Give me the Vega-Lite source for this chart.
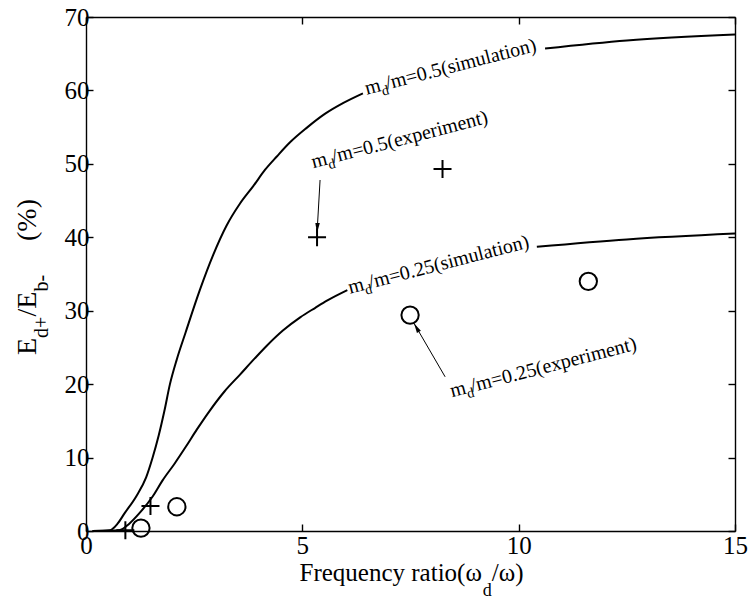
{
  "$schema": "https://vega.github.io/schema/vega-lite/v6.json",
  "description": "Energy ratio versus frequency ratio, simulation and experiment",
  "width": 649,
  "height": 514,
  "autosize": {"type": "none"},
  "padding": {"left": 86, "top": 17, "right": 13, "bottom": 68},
  "background": "white",
  "config": {
    "view": {"stroke": null},
    "font": "Liberation Serif, Times New Roman, serif",
    "text": {"font": "Liberation Serif, Times New Roman, serif"},
    "axis": {
      "domainColor": "black", "domainWidth": 1.4,
      "tickColor": "black", "tickWidth": 1.4, "tickSize": -7,
      "labelFont": "Liberation Serif, Times New Roman, serif", "labelFontSize": 25, "labelColor": "black",
      "labelFlush": false, "labelOverlap": false, "grid": false, "title": null
    }
  },
  "datasets": {
    "sim": [
      {"curve": "0.5", "part": "a", "ratio": 0.15, "value": 0},
      {"curve": "0.5", "part": "a", "ratio": 0.55, "value": 0.1},
      {"curve": "0.5", "part": "a", "ratio": 0.73, "value": 1.0},
      {"curve": "0.5", "part": "a", "ratio": 0.89, "value": 2.4},
      {"curve": "0.5", "part": "a", "ratio": 1.16, "value": 4.7},
      {"curve": "0.5", "part": "a", "ratio": 1.39, "value": 7.3},
      {"curve": "0.5", "part": "a", "ratio": 1.54, "value": 10.0},
      {"curve": "0.5", "part": "a", "ratio": 1.68, "value": 13.0},
      {"curve": "0.5", "part": "a", "ratio": 1.81, "value": 16.3},
      {"curve": "0.5", "part": "a", "ratio": 1.94, "value": 20.0},
      {"curve": "0.5", "part": "a", "ratio": 2.1, "value": 23.4},
      {"curve": "0.5", "part": "a", "ratio": 2.3, "value": 27.0},
      {"curve": "0.5", "part": "a", "ratio": 2.63, "value": 32.8},
      {"curve": "0.5", "part": "a", "ratio": 2.94, "value": 37.6},
      {"curve": "0.5", "part": "a", "ratio": 3.25, "value": 41.6},
      {"curve": "0.5", "part": "a", "ratio": 3.56, "value": 44.6},
      {"curve": "0.5", "part": "a", "ratio": 3.87, "value": 47.0},
      {"curve": "0.5", "part": "a", "ratio": 4.14, "value": 49.2},
      {"curve": "0.5", "part": "a", "ratio": 4.41, "value": 51.0},
      {"curve": "0.5", "part": "a", "ratio": 4.71, "value": 52.9},
      {"curve": "0.5", "part": "a", "ratio": 5.1, "value": 54.9},
      {"curve": "0.5", "part": "a", "ratio": 5.52, "value": 56.8},
      {"curve": "0.5", "part": "a", "ratio": 5.95, "value": 58.3},
      {"curve": "0.5", "part": "a", "ratio": 6.4, "value": 59.6},
      {"curve": "0.5", "part": "b", "ratio": 10.61, "value": 65.7},
      {"curve": "0.5", "part": "b", "ratio": 12.5, "value": 66.8},
      {"curve": "0.5", "part": "b", "ratio": 15, "value": 67.6},
      {"curve": "0.25", "part": "a", "ratio": 0.15, "value": 0},
      {"curve": "0.25", "part": "a", "ratio": 0.77, "value": 0.1},
      {"curve": "0.25", "part": "a", "ratio": 1.0, "value": 1.0},
      {"curve": "0.25", "part": "a", "ratio": 1.23, "value": 2.4},
      {"curve": "0.25", "part": "a", "ratio": 1.54, "value": 4.7},
      {"curve": "0.25", "part": "a", "ratio": 1.77, "value": 6.9},
      {"curve": "0.25", "part": "a", "ratio": 2.05, "value": 9.2},
      {"curve": "0.25", "part": "a", "ratio": 2.31, "value": 11.5},
      {"curve": "0.25", "part": "a", "ratio": 2.56, "value": 13.8},
      {"curve": "0.25", "part": "a", "ratio": 2.85, "value": 16.3},
      {"curve": "0.25", "part": "a", "ratio": 3.2, "value": 19.0},
      {"curve": "0.25", "part": "a", "ratio": 3.56, "value": 21.3},
      {"curve": "0.25", "part": "a", "ratio": 3.9, "value": 23.5},
      {"curve": "0.25", "part": "a", "ratio": 4.19, "value": 25.3},
      {"curve": "0.25", "part": "a", "ratio": 4.55, "value": 27.3},
      {"curve": "0.25", "part": "a", "ratio": 4.95, "value": 29.1},
      {"curve": "0.25", "part": "a", "ratio": 5.3, "value": 30.4},
      {"curve": "0.25", "part": "a", "ratio": 5.58, "value": 31.4},
      {"curve": "0.25", "part": "a", "ratio": 6.04, "value": 32.8},
      {"curve": "0.25", "part": "b", "ratio": 10.42, "value": 38.7},
      {"curve": "0.25", "part": "b", "ratio": 12.5, "value": 39.7},
      {"curve": "0.25", "part": "b", "ratio": 15, "value": 40.5}
    ],
    "experiment": [
      {"mass": "0.5", "ratio": 0.91, "value": 0.1},
      {"mass": "0.5", "ratio": 1.49, "value": 3.4},
      {"mass": "0.5", "ratio": 5.34, "value": 40.0},
      {"mass": "0.5", "ratio": 8.24, "value": 49.3},
      {"mass": "0.25", "ratio": 1.27, "value": 0.4},
      {"mass": "0.25", "ratio": 2.1, "value": 3.3},
      {"mass": "0.25", "ratio": 7.49, "value": 29.4},
      {"mass": "0.25", "ratio": 11.61, "value": 34.0}
    ],
    "arrows": [
      {"id": 1, "x": 5.41, "y": 47.8, "x2": 5.34, "y2": 40.6},
      {"id": 2, "x": 8.3, "y": 21.0, "x2": 7.58, "y2": 28.3}
    ],
    "notes": [
      {"x": 6.49, "y": 59.4, "head": "m", "sub": "d", "rest": "/m=0.5(simulation)"},
      {"x": 5.25, "y": 49.4, "head": "m", "sub": "d", "rest": "/m=0.5(experiment)"},
      {"x": 6.1, "y": 32.3, "head": "m", "sub": "d", "rest": "/m=0.25(simulation)"},
      {"x": 8.46, "y": 18.2, "head": "m", "sub": "d", "rest": "/m=0.25(experiment)"}
    ],
    "xtitle": [
      {"role": "main", "text": "Frequency ratio(ω", "x": 9.15, "y": -6.8},
      {"role": "sub", "text": "d", "x": 9.17, "y": -8.8},
      {"role": "tail", "text": "/ω)", "x": 9.38, "y": -6.8}
    ],
    "ytitle": [
      {"role": "main", "text": "E", "x": -1.156, "y": 23.97},
      {"role": "sub", "text": "d+", "x": -0.878, "y": 26.3},
      {"role": "main", "text": "/E", "x": -1.156, "y": 29.2},
      {"role": "sub", "text": "b-", "x": -0.878, "y": 32.6},
      {"role": "main", "text": "(%)", "x": -1.156, "y": 39.5}
    ]
  },
  "layer": [
    {
      "data": {"name": "sim"},
      "mark": {"type": "line", "color": "black", "strokeWidth": 2, "interpolate": "monotone"},
      "encoding": {
        "x": {"field": "ratio", "type": "quantitative", "scale": {"domain": [0, 15], "nice": false},
              "axis": {"orient": "bottom", "values": [0, 5, 10, 15], "labelPadding": 9}},
        "y": {"field": "value", "type": "quantitative", "scale": {"domain": [0, 70], "nice": false},
              "axis": {"orient": "left", "values": [0, 10, 20, 30, 40, 50, 60, 70], "labelPadding": 4}},
        "detail": [{"field": "curve"}, {"field": "part"}]
      }
    },
    {
      "data": {"name": "experiment"},
      "transform": [{"filter": "datum.mass === '0.5'"}],
      "mark": {"type": "point", "shape": "M-1,0H1M0,-1V1", "size": 324, "filled": false, "color": "black", "strokeWidth": 2, "opacity": 1},
      "encoding": {
        "x": {"field": "ratio", "type": "quantitative",
              "axis": {"orient": "top", "values": [0, 5, 10, 15], "labels": false}},
        "y": {"field": "value", "type": "quantitative",
              "axis": {"orient": "right", "values": [0, 10, 20, 30, 40, 50, 60, 70], "labels": false}}
      }
    },
    {
      "data": {"name": "experiment"},
      "transform": [{"filter": "datum.mass === '0.25'"}],
      "mark": {"type": "point", "shape": "circle", "size": 300, "filled": false, "color": "black", "strokeWidth": 2, "opacity": 1},
      "encoding": {
        "x": {"field": "ratio", "type": "quantitative", "axis": null},
        "y": {"field": "value", "type": "quantitative", "axis": null}
      }
    },
    {
      "data": {"name": "arrows"},
      "mark": {"type": "rule", "color": "black", "strokeWidth": 1},
      "encoding": {
        "x": {"field": "x", "type": "quantitative", "axis": null},
        "y": {"field": "y", "type": "quantitative", "axis": null},
        "x2": {"field": "x2"},
        "y2": {"field": "y2"}
      }
    },
    {
      "data": {"name": "arrows"},
      "transform": [{"filter": "datum.id === 1"}],
      "mark": {"type": "point", "shape": "M0,0L-0.5,-2.2L0.5,-2.2Z", "size": 81, "filled": true, "color": "black", "strokeWidth": 0, "opacity": 1, "angle": 3},
      "encoding": {
        "x": {"field": "x2", "type": "quantitative", "axis": null},
        "y": {"field": "y2", "type": "quantitative", "axis": null}
      }
    },
    {
      "data": {"name": "arrows"},
      "transform": [{"filter": "datum.id === 2"}],
      "mark": {"type": "point", "shape": "M0,0L-0.5,-2.2L0.5,-2.2Z", "size": 81, "filled": true, "color": "black", "strokeWidth": 0, "opacity": 1, "angle": 150},
      "encoding": {
        "x": {"field": "x2", "type": "quantitative", "axis": null},
        "y": {"field": "y2", "type": "quantitative", "axis": null}
      }
    },
    {
      "data": {"name": "notes"},
      "mark": {"type": "text", "fontSize": 20, "align": "left", "baseline": "alphabetic", "angle": -14.5, "color": "black"},
      "encoding": {
        "x": {"field": "x", "type": "quantitative", "axis": null},
        "y": {"field": "y", "type": "quantitative", "axis": null},
        "text": {"field": "head"}
      }
    },
    {
      "data": {"name": "notes"},
      "mark": {"type": "text", "fontSize": 14, "align": "left", "baseline": "alphabetic", "angle": -14.5, "dx": 15.5, "dy": 5, "color": "black"},
      "encoding": {
        "x": {"field": "x", "type": "quantitative", "axis": null},
        "y": {"field": "y", "type": "quantitative", "axis": null},
        "text": {"field": "sub"}
      }
    },
    {
      "data": {"name": "notes"},
      "mark": {"type": "text", "fontSize": 20, "align": "left", "baseline": "alphabetic", "angle": -14.5, "dx": 21, "color": "black"},
      "encoding": {
        "x": {"field": "x", "type": "quantitative", "axis": null},
        "y": {"field": "y", "type": "quantitative", "axis": null},
        "text": {"field": "rest"}
      }
    },
    {
      "data": {"name": "xtitle"},
      "transform": [{"filter": "datum.role === 'main'"}],
      "mark": {"type": "text", "fontSize": 25, "align": "right", "baseline": "alphabetic", "color": "black"},
      "encoding": {
        "x": {"field": "x", "type": "quantitative", "axis": null},
        "y": {"field": "y", "type": "quantitative", "axis": null},
        "text": {"field": "text"}
      }
    },
    {
      "data": {"name": "xtitle"},
      "transform": [{"filter": "datum.role === 'sub'"}],
      "mark": {"type": "text", "fontSize": 18, "align": "left", "baseline": "alphabetic", "color": "black"},
      "encoding": {
        "x": {"field": "x", "type": "quantitative", "axis": null},
        "y": {"field": "y", "type": "quantitative", "axis": null},
        "text": {"field": "text"}
      }
    },
    {
      "data": {"name": "xtitle"},
      "transform": [{"filter": "datum.role === 'tail'"}],
      "mark": {"type": "text", "fontSize": 25, "align": "left", "baseline": "alphabetic", "color": "black"},
      "encoding": {
        "x": {"field": "x", "type": "quantitative", "axis": null},
        "y": {"field": "y", "type": "quantitative", "axis": null},
        "text": {"field": "text"}
      }
    },
    {
      "data": {"name": "ytitle"},
      "transform": [{"filter": "datum.role === 'main'"}],
      "mark": {"type": "text", "fontSize": 28, "align": "left", "baseline": "alphabetic", "angle": -90, "color": "black"},
      "encoding": {
        "x": {"field": "x", "type": "quantitative", "axis": null},
        "y": {"field": "y", "type": "quantitative", "axis": null},
        "text": {"field": "text"}
      }
    },
    {
      "data": {"name": "ytitle"},
      "transform": [{"filter": "datum.role === 'sub'"}],
      "mark": {"type": "text", "fontSize": 20, "align": "left", "baseline": "alphabetic", "angle": -90, "color": "black"},
      "encoding": {
        "x": {"field": "x", "type": "quantitative", "axis": null},
        "y": {"field": "y", "type": "quantitative", "axis": null},
        "text": {"field": "text"}
      }
    }
  ],
  "resolve": {"axis": {"x": "independent", "y": "independent"}}
}
